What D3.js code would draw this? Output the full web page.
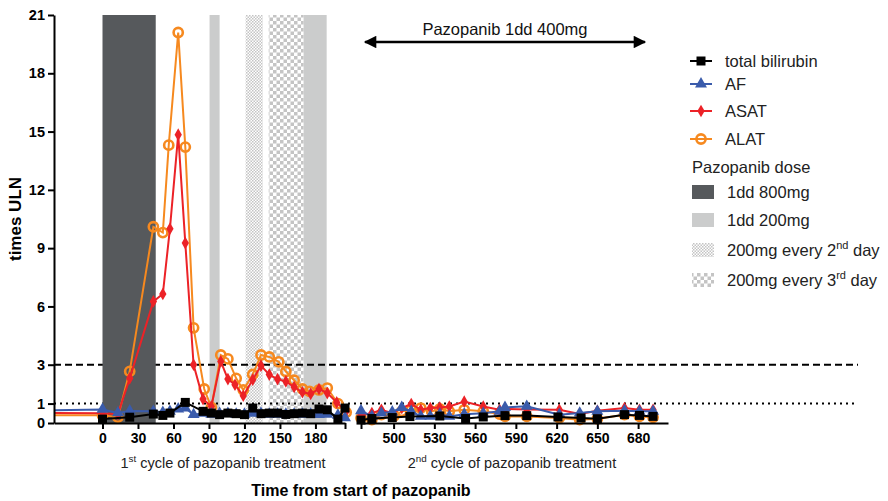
<!DOCTYPE html>
<html>
<head>
<meta charset="utf-8">
<script src="https://cdn.jsdelivr.net/npm/d3@7"></script>
<style>
  body { margin: 0; background: #fff; }
  text { font-family: "Liberation Sans", Arial, sans-serif; }
</style>
</head>
<body>
<div id="chart"></div>
<script>
// values: [day, times ULN]
var bilirubin = [
    [0, 0.2], [23, 0.3], [43, 0.46], [51, 0.39], [57, 0.51], [70, 1.06], [85, 0.6], [92, 0.51],
    [99, 0.43], [106, 0.51], [113, 0.48], [120, 0.43], [127, 0.77], [134, 0.48], [141, 0.51],
    [148, 0.51], [155, 0.44], [162, 0.48], [169, 0.51], [176, 0.48], [183, 0.72], [190, 0.68],
    [199, 0.2], [205, 0.77],
    [476, 0.15], [484, 0.23], [499, 0.28], [512, 0.33], [534, 0.36], [553, 0.23], [566, 0.31],
    [582, 0.38], [598, 0.38], [621, 0.31], [638, 0.26], [650, 0.22], [670, 0.43], [681, 0.39], [691, 0.34]
];
var af = [
    [-60, 0.63], [0, 0.7], [13, 0.52], [23, 0.62], [43, 0.6], [51, 0.55], [57, 0.6], [64, 0.72],
    [70, 0.77], [77, 0.43], [85, 0.5], [92, 0.45], [99, 0.5], [106, 0.5], [113, 0.45], [120, 0.45],
    [127, 0.5], [134, 0.5], [141, 0.45], [148, 0.45], [155, 0.45], [162, 0.45], [169, 0.45],
    [176, 0.45], [183, 0.43], [190, 0.45], [199, 0.4], [205, 0.27],
    [476, 0.63], [484, 0.34], [491, 0.51], [499, 0.57], [506, 0.8], [513, 0.6], [520, 0.34],
    [527, 0.34], [534, 0.46], [541, 0.34], [552, 0.45], [566, 0.5], [578, 0.6], [582, 0.8],
    [598, 0.86], [622, 0.43], [637, 0.51], [650, 0.6], [670, 0.63], [681, 0.6], [691, 0.6]
];
var asat = [
    [-60, 0.53], [0, 0.5], [13, 0.45], [23, 2.3], [43, 6.26], [51, 6.64], [57, 10.0], [64, 14.84],
    [70, 9.26], [77, 3.0], [85, 1.23], [92, 0.85], [100, 3.17], [106, 2.26], [112, 1.97],
    [119, 1.4], [127, 2.23], [134, 2.95], [141, 2.49], [148, 2.26], [155, 2.14], [162, 1.85],
    [169, 1.58], [176, 1.5], [183, 1.75], [190, 1.54], [198, 1.06], [206, 0.6],
    [476, 0.38], [484, 0.51], [491, 0.68], [499, 0.51], [506, 0.77], [513, 0.98], [520, 0.68],
    [527, 0.77], [534, 0.8], [541, 0.85], [552, 1.1], [566, 0.85], [578, 0.68], [582, 0.73],
    [598, 0.7], [622, 0.68], [637, 0.46], [650, 0.63], [670, 0.77], [681, 0.68], [691, 0.68]
];
var alat = [
    [-60, 0.4], [0, 0.4], [13, 0.3], [23, 2.66], [43, 10.1], [51, 9.8], [56, 14.3], [64, 20.1],
    [70, 14.2], [77, 4.9], [86, 1.75], [92, 0.8], [100, 3.5], [106, 3.3], [113, 2.3], [119, 1.7],
    [127, 2.5], [134, 3.5], [141, 3.4], [149, 3.15], [155, 2.65], [162, 2.2], [169, 1.75],
    [175, 1.63], [183, 1.7], [190, 1.8], [199, 1.0], [206, 0.55],
    [476, 0.26], [484, 0.17], [491, 0.43], [500, 0.34], [506, 0.6], [513, 0.68], [520, 0.77],
    [528, 0.6], [534, 0.73], [541, 0.6], [552, 0.68], [566, 0.6], [578, 0.46], [582, 0.34],
    [598, 0.34], [622, 0.26], [637, 0.17], [650, 0.22], [670, 0.43], [681, 0.34], [691, 0.29]
];

var doseBands = [
    { from: 0, to: 45, kind: 'd800' },
    { from: 90.5, to: 99, kind: 'd200' },
    { from: 121, to: 135.5, kind: 'every2' },
    { from: 140.5, to: 170, kind: 'every3' },
    { from: 170, to: 189.5, kind: 'd200' }
];

var yTicks = [0, 1, 3, 6, 9, 12, 15, 18, 21];
var x1Ticks = [0, 30, 60, 90, 120, 150, 180];
var x2Ticks = [500, 530, 560, 590, 620, 650, 680];
var refLines = [{ value: 3, dash: '7,4' }, { value: 1, dash: '2,4' }];
var arrowDays = [479, 685];

var series = [
    { name: 'ALAT', data: alat, color: '#f6891f', symbol: 'circle' },
    { name: 'ASAT', data: asat, color: '#ec2227', symbol: 'diamond' },
    { name: 'AF', data: af, color: '#3a5bab', symbol: 'triangle' },
    { name: 'total bilirubin', data: bilirubin, color: '#000', symbol: 'square' }
];

var width = 888, height = 501;
var font = '"Liberation Sans", Arial, sans-serif';

var svg = d3.select('#chart').append('svg')
    .attr('width', width)
    .attr('height', height);

var y = d3.scaleLinear().domain([0, 21]).range([423, 15]);
var x1 = d3.scaleLinear().domain([-41, 205]).range([54, 345]);
var x2 = d3.scaleLinear().domain([476, 702]).range([361, 668]);

var defs = svg.append('defs');
defs.append('clipPath').attr('id', 'clip1')
    .append('rect').attr('x', 54).attr('y', 0).attr('width', 400).attr('height', 440);

function checker(id, cell) {
    var p = defs.append('pattern').attr('id', id)
        .attr('patternUnits', 'userSpaceOnUse')
        .attr('width', cell * 2).attr('height', cell * 2);
    p.append('rect').attr('width', cell * 2).attr('height', cell * 2).attr('fill', '#fff');
    p.append('rect').attr('width', cell).attr('height', cell).attr('fill', '#c4c4c4');
    p.append('rect').attr('x', cell).attr('y', cell).attr('width', cell).attr('height', cell).attr('fill', '#c4c4c4');
}
checker('pat2', 1.5);
checker('pat3', 3.5);

var bandFill = { d800: '#56595c', d200: '#cbcccc', every2: 'url(#pat2)', every3: 'url(#pat3)' };

// light bands, then reference lines, then the dark band covers them
svg.append('g').selectAll('rect')
    .data(doseBands.filter(function(d) { return d.kind != 'd800'; }))
    .enter().append('rect')
    .attr('x', function(d) { return x1(d.from); })
    .attr('width', function(d) { return x1(d.to) - x1(d.from); })
    .attr('y', y(21))
    .attr('height', y(0) - y(21))
    .attr('fill', function(d) { return bandFill[d.kind]; });

svg.append('g').selectAll('line')
    .data(refLines).enter().append('line')
    .attr('x1', 54).attr('x2', 858)
    .attr('y1', function(d) { return y(d.value); })
    .attr('y2', function(d) { return y(d.value); })
    .attr('stroke', '#000')
    .attr('stroke-width', 2)
    .attr('stroke-dasharray', function(d) { return d.dash; });

svg.append('g').selectAll('rect')
    .data(doseBands.filter(function(d) { return d.kind == 'd800'; }))
    .enter().append('rect')
    .attr('x', function(d) { return x1(d.from); })
    .attr('width', function(d) { return x1(d.to) - x1(d.from); })
    .attr('y', y(21))
    .attr('height', y(0) - y(21))
    .attr('fill', bandFill.d800);

var symbolTypes = {
    square: d3.symbolSquare, triangle: d3.symbolTriangle, diamond: d3.symbolDiamond
};
var symbolSizes = { square: 81, triangle: 62, diamond: 46 };

function drawMarker(g, s, px, py) {
    if (s.symbol == 'circle') {
        g.append('circle').attr('cx', px).attr('cy', py).attr('r', 4.6)
            .attr('fill', 'none').attr('stroke', s.color).attr('stroke-width', 2.6);
    } else {
        g.append('path')
            .attr('d', d3.symbol().type(symbolTypes[s.symbol]).size(symbolSizes[s.symbol])())
            .attr('transform', 'translate(' + px + ',' + py + ')')
            .attr('fill', s.color);
    }
}

var seg1 = function(d) { return d[0] < 300; };
var seg2 = function(d) { return d[0] >= 300; };

series.forEach(function(s) {
    var g = svg.append('g');
    var line1 = d3.line().x(function(d) { return x1(d[0]); }).y(function(d) { return y(d[1]); });
    var line2 = d3.line().x(function(d) { return x2(d[0]); }).y(function(d) { return y(d[1]); });
    g.append('path').datum(s.data.filter(seg1))
        .attr('d', line1).attr('fill', 'none')
        .attr('stroke', s.color).attr('stroke-width', 2)
        .attr('clip-path', 'url(#clip1)');
    g.append('path').datum(s.data.filter(seg2))
        .attr('d', line2).attr('fill', 'none')
        .attr('stroke', s.color).attr('stroke-width', 2);
    s.data.forEach(function(d) {
        if (d[0] < -41) return;
        var px = d[0] < 300 ? x1(d[0]) : x2(d[0]);
        drawMarker(g, s, px, y(d[1]));
    });
});

// axes
function styleAxis(g, size) {
    g.selectAll('path.domain').attr('stroke', '#000').attr('stroke-width', 2);
    g.selectAll('.tick line').attr('stroke', '#000').attr('stroke-width', 2);
    g.selectAll('.tick text').attr('fill', '#000')
        .style('font-family', font).style('font-size', size + 'px').style('font-weight', 700);
}

var yAxis = svg.append('g')
    .attr('transform', 'translate(54,0)')
    .call(d3.axisLeft(y).tickValues(yTicks).tickSize(6).tickSizeOuter(0).tickPadding(3));
styleAxis(yAxis, 14.5);

var xAxis1 = svg.append('g')
    .attr('transform', 'translate(0,' + y(0) + ')')
    .call(d3.axisBottom(x1).tickValues(x1Ticks.concat([205])).tickSize(6).tickSizeOuter(0).tickPadding(4)
        .tickFormat(function(d) { return d == 205 ? '' : d; }));
styleAxis(xAxis1, 14);

var xAxis2 = svg.append('g')
    .attr('transform', 'translate(0,' + y(0) + ')')
    .call(d3.axisBottom(x2).tickValues([476].concat(x2Ticks)).tickSize(6).tickSizeOuter(0).tickPadding(4)
        .tickFormat(function(d) { return d == 476 ? '' : d; }));
styleAxis(xAxis2, 14);

// axis titles
svg.append('text')
    .attr('transform', 'translate(21,219) rotate(-90)')
    .attr('text-anchor', 'middle')
    .style('font-size', '17px').style('font-weight', 700)
    .text('times ULN');

svg.append('text')
    .attr('x', 361).attr('y', 496)
    .attr('text-anchor', 'middle')
    .style('font-size', '16px').style('font-weight', 700)
    .text('Time from start of pazopanib');

function supText(x, yy, pre, sup, post, size, anchor) {
    var t = svg.append('text').attr('x', x).attr('y', yy)
        .attr('text-anchor', anchor || 'start')
        .style('font-size', size + 'px').attr('fill', '#222');
    t.append('tspan').text(pre);
    t.append('tspan').attr('dy', -size * 0.38).style('font-size', (size * 0.68) + 'px').text(sup);
    t.append('tspan').attr('dy', size * 0.38).text(post);
    return t;
}
supText(223, 468, '1', 'st', ' cycle of pazopanib treatment', 14.5, 'middle');
supText(512, 468, '2', 'nd', ' cycle of pazopanib treatment', 14.5, 'middle');

// arrow
defs.append('marker').attr('id', 'ah').attr('viewBox', '0 0 10 10')
    .attr('refX', 9).attr('refY', 5).attr('markerWidth', 6).attr('markerHeight', 5)
    .attr('orient', 'auto-start-reverse')
    .append('path').attr('d', 'M0,0 L10,5 L0,10 z').attr('fill', '#000');
svg.append('line')
    .attr('x1', x2(arrowDays[0])).attr('x2', x2(arrowDays[1]))
    .attr('y1', 42).attr('y2', 42)
    .attr('stroke', '#000').attr('stroke-width', 2.5)
    .attr('marker-start', 'url(#ah)').attr('marker-end', 'url(#ah)');
svg.append('text')
    .attr('x', (x2(arrowDays[0]) + x2(arrowDays[1])) / 2).attr('y', 35)
    .attr('text-anchor', 'middle')
    .style('font-size', '16.5px').attr('fill', '#111')
    .text('Pazopanib 1dd 400mg');

// legend
var legendSize = 16.5;
var legend = svg.append('g').attr('transform', 'translate(690,0)');
var legendRows = [series[3], series[2], series[1], series[0]];
var rowY = [61, 84, 111, 139];
legendRows.forEach(function(s, i) {
    legend.append('line').attr('x1', 0).attr('x2', 22)
        .attr('y1', rowY[i]).attr('y2', rowY[i])
        .attr('stroke', s.color).attr('stroke-width', 2);
    drawMarker(legend, s, 11, rowY[i]);
    legend.append('text').attr('x', 35).attr('y', rowY[i] + 6)
        .style('font-size', legendSize + 'px').attr('fill', '#222').text(s.name);
});
legend.append('text').attr('x', 2).attr('y', 173)
    .style('font-size', legendSize + 'px').attr('fill', '#222').text('Pazopanib dose');

var doseLegend = [
    { kind: 'd800', y: 192, label: ['1dd 800mg'] },
    { kind: 'd200', y: 220, label: ['1dd 200mg'] },
    { kind: 'every2', y: 250, label: ['200mg every 2', 'nd', ' day'] },
    { kind: 'every3', y: 280, label: ['200mg every 3', 'rd', ' day'] }
];
doseLegend.forEach(function(d) {
    legend.append('rect').attr('x', 2).attr('y', d.y - 7).attr('width', 22).attr('height', 14)
        .attr('fill', bandFill[d.kind]);
    var t = legend.append('text').attr('x', 37).attr('y', d.y + 6)
        .style('font-size', legendSize + 'px').attr('fill', '#222');
    t.append('tspan').text(d.label[0]);
    if (d.label.length > 1) {
        t.append('tspan').attr('dy', -7).style('font-size', '11px').text(d.label[1]);
        t.append('tspan').attr('dy', 7).text(d.label[2]);
    }
});
</script>
</body>
</html>
